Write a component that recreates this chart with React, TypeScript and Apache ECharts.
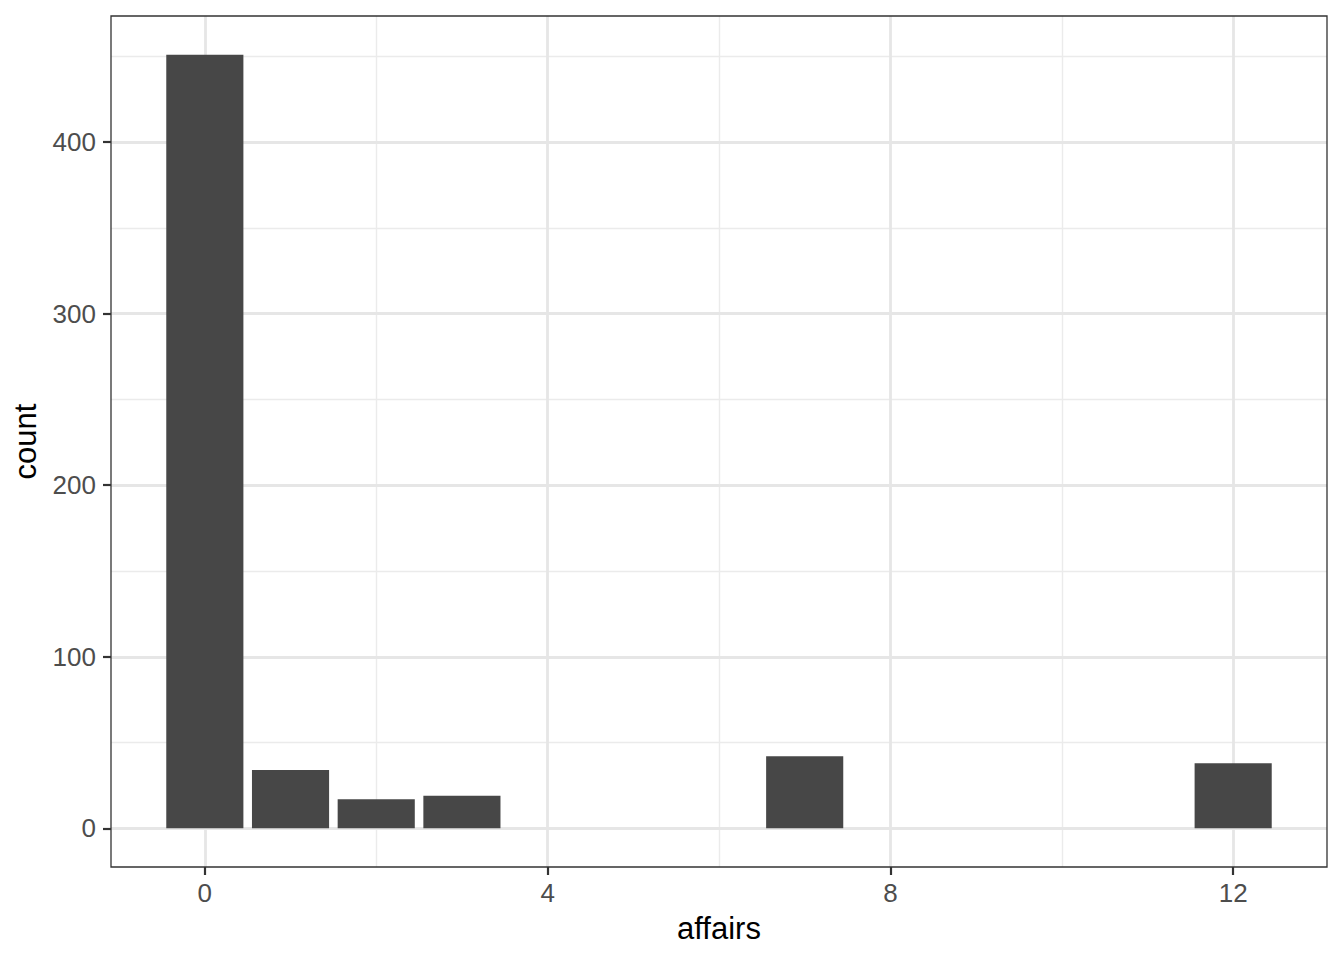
import React, { useEffect, useRef } from "react";
import * as echarts from "echarts";

const affairs = [0, 1, 2, 3, 7, 12];
const counts = [451, 34, 17, 19, 42, 38];
const xTicks = [0, 4, 8, 12];
const xMinor = [2, 6, 10];
const yTicks = [0, 100, 200, 300, 400];
const yMinor = [50, 150, 250, 350, 450];
const barHalfWidth = 0.45;

const FONT = "Liberation Sans, Arial, Helvetica, sans-serif";

export default function App() {
  const ref = useRef<HTMLDivElement>(null);
  useEffect(() => {
    if (!ref.current) return;
    const chart = echarts.init(ref.current, undefined, { renderer: "svg" });
    const xMin = -barHalfWidth - 0.05 * (12 + 2 * barHalfWidth);
    const xMax = 12 + barHalfWidth + 0.05 * (12 + 2 * barHalfWidth);
    const yTop = Math.max(...counts);
    const yMin = -0.05 * yTop;
    const yMax = yTop * 1.05;
    const gridLines = [
      ...xMinor.map((v) => ({ xAxis: v, lineStyle: { color: "#ebebeb", width: 1.4, type: "solid" } })),
      ...yMinor.map((v) => ({ yAxis: v, lineStyle: { color: "#ebebeb", width: 1.4, type: "solid" } })),
      ...xTicks.map((v) => ({ xAxis: v, lineStyle: { color: "#e6e6e6", width: 2.8, type: "solid" } })),
      ...yTicks.map((v) => ({ yAxis: v, lineStyle: { color: "#e6e6e6", width: 2.8, type: "solid" } })),
    ];
    chart.setOption({
      animation: false,
      backgroundColor: "#ffffff",
      grid: {
        left: 111,
        top: 16,
        width: 1216,
        height: 851,
        show: true,
        borderColor: "#333333",
        borderWidth: 1.3,
        backgroundColor: "transparent",
        z: 10,
      },
      xAxis: {
        type: "value",
        min: xMin,
        max: xMax,
        name: "affairs",
        nameLocation: "middle",
        nameGap: 46,
        nameTextStyle: { fontFamily: FONT, fontSize: 31, color: "#000000" },
        axisLine: { show: false, onZero: false },
        axisTick: { show: true, customValues: xTicks, length: 8, lineStyle: { color: "#333333", width: 2.2 } },
        axisLabel: { customValues: xTicks, fontFamily: FONT, fontSize: 26, color: "#4d4d4d", margin: 13 },
        splitLine: { show: false },
      },
      yAxis: {
        type: "value",
        min: yMin,
        max: yMax,
        name: "count",
        nameLocation: "middle",
        nameGap: 70,
        nameTextStyle: { fontFamily: FONT, fontSize: 31, color: "#000000" },
        axisLine: { show: false, onZero: false },
        axisTick: { show: true, customValues: yTicks, length: 8, lineStyle: { color: "#333333", width: 2.2 } },
        axisLabel: { customValues: yTicks, fontFamily: FONT, fontSize: 26, color: "#4d4d4d", margin: 15 },
        splitLine: { show: false },
      },
      series: [
        {
          type: "line",
          data: [],
          silent: true,
          z: 1,
          markLine: {
            silent: true,
            symbol: "none",
            label: { show: false },
            data: gridLines,
          },
        },
        {
          type: "custom",
          z: 5,
          data: affairs.map((a, i) => [a, counts[i]]),
          renderItem: (params: any, api: any) => {
            const x = api.value(0);
            const y = api.value(1);
            const p0 = api.coord([x - barHalfWidth, y]);
            const p1 = api.coord([x + barHalfWidth, 0]);
            return {
              type: "rect",
              shape: { x: p0[0], y: p0[1], width: p1[0] - p0[0], height: p1[1] - p0[1] },
              style: { fill: "#474747" },
            };
          },
        },
      ],
    });
    return () => chart.dispose();
  }, []);
  return (
    <div
      ref={ref}
      style={{ position: "fixed", left: 0, top: 0, width: 1344, height: 960 }}
    />
  );
}
